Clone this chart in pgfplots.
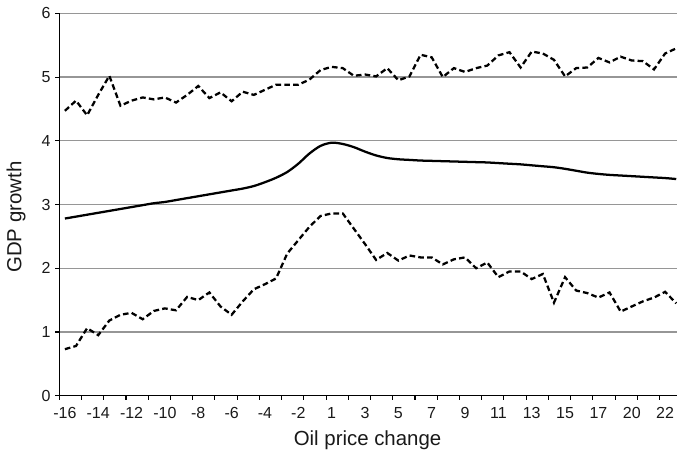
\documentclass[border=0pt]{standalone}
\usepackage{pgfplots}
\pgfplotsset{compat=1.18}
\usepackage{pgfplotstable}
\usepackage{fontspec}
\setmainfont{Liberation Sans}
\definecolor{gridgray}{RGB}{150,150,150}
\definecolor{txt}{RGB}{25,25,25}
\pgfplotstableread{
i up mid lo
0 4.47 2.78 0.73
1 4.63 2.81 0.78
2 4.40 2.84 1.06
3 4.72 2.87 0.95
4 5.02 2.90 1.18
5 4.55 2.93 1.27
6 4.63 2.96 1.30
7 4.68 2.99 1.20
8 4.65 3.02 1.33
9 4.68 3.04 1.37
10 4.60 3.07 1.34
11 4.72 3.10 1.55
12 4.86 3.13 1.50
13 4.67 3.16 1.62
14 4.76 3.19 1.40
15 4.62 3.22 1.27
16 4.77 3.25 1.48
17 4.72 3.29 1.67
18 4.80 3.35 1.75
19 4.88 3.42 1.84
20 4.88 3.51 2.23
21 4.88 3.64 2.44
22 4.96 3.80 2.65
23 5.11 3.92 2.82
24 5.16 3.97 2.86
25 5.14 3.95 2.86
26 5.02 3.90 2.62
27 5.04 3.83 2.38
28 5.01 3.77 2.13
29 5.14 3.73 2.24
30 4.95 3.71 2.12
31 5.01 3.70 2.20
32 5.35 3.69 2.17
33 5.31 3.685 2.17
34 5.00 3.68 2.06
35 5.14 3.675 2.14
36 5.08 3.67 2.17
37 5.14 3.665 2.00
38 5.18 3.66 2.09
39 5.34 3.65 1.86
40 5.39 3.64 1.95
41 5.15 3.63 1.95
42 5.40 3.615 1.83
43 5.37 3.60 1.91
44 5.27 3.585 1.46
45 5.01 3.56 1.86
46 5.14 3.53 1.65
47 5.15 3.50 1.61
48 5.30 3.48 1.54
49 5.23 3.465 1.62
50 5.32 3.455 1.32
51 5.26 3.445 1.40
52 5.25 3.435 1.48
53 5.12 3.425 1.54
54 5.37 3.415 1.63
55 5.45 3.40 1.45
}\data
\begin{document}
\begin{tikzpicture}
\useasboundingbox (-44.5pt,-43.7pt) rectangle (463.3pt,296.8pt);
\clip (-44.5pt,-43.7pt) rectangle (463.3pt,296.8pt);
\begin{axis}[
  at={(0pt,0pt)}, anchor=south west,
  scale only axis, width=463.3pt, height=286.8pt,
  xmin=-0.5, xmax=55.07, ymin=0, ymax=6,
  axis x line*=bottom, axis y line*=left,
  axis line style={-, black, line width=1.1pt},
  ytick={0,1,...,6},
  ymajorgrids, grid style={gridgray, line width=0.9pt},
  xtick={-0.5,1.5,...,53.5},
  xticklabels={},
  extra x ticks={0,3,...,54},
  extra x tick labels={-16,-14,-12,-10,-8,-6,-4,-2,1,3,5,7,9,11,13,15,17,20,22},
  extra x tick style={major tick length=0pt, grid=none},
  tick align=outside, major tick length=3pt,
  tick style={black, line width=0.8pt},
  /pgf/number format/assume math mode=true,
  ticklabel style={font=\fontsize{12}{14}\selectfont, text=txt},
  xticklabel style={yshift=-5pt},
  label style={font=\fontsize{15.3}{18}\selectfont, text=txt},
  xlabel={Oil price change},
  xlabel style={at={(axis description cs:0.499,-0.129)}, anchor=base},
  ylabel={GDP growth},
  ylabel style={at={(axis description cs:-0.070,0.467)}, anchor=center, rotate=0},
  clip=false,
]
\addplot[black, line width=1.7pt, dash pattern=on 4.2pt off 2.4pt] table[x=i, y=up] {\data};
\addplot[black, line width=1.7pt, smooth] table[x=i, y=mid] {\data};
\addplot[black, line width=1.7pt, dash pattern=on 4.2pt off 2.4pt] table[x=i, y=lo] {\data};
\end{axis}
\end{tikzpicture}
\end{document}
